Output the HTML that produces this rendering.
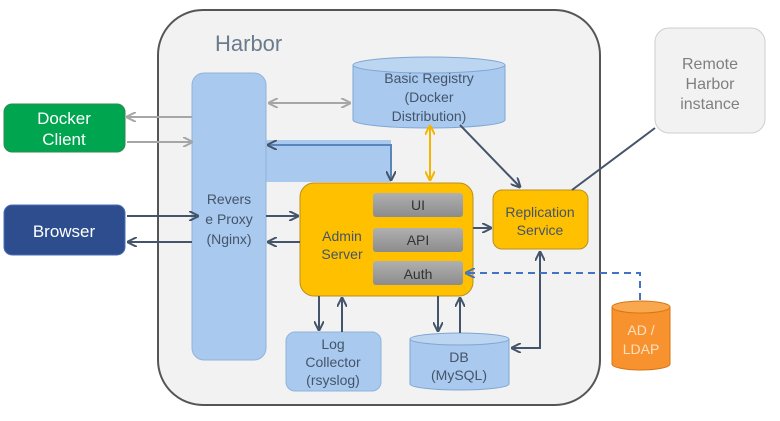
<!DOCTYPE html>
<html><head><meta charset="utf-8"><style>
html,body{margin:0;padding:0;background:#fff;}
svg{display:block;font-family:"Liberation Sans","DejaVu Sans",sans-serif;}
</style></head><body>
<svg width="780" height="421" viewBox="0 0 780 421" xmlns="http://www.w3.org/2000/svg">
<defs>
<marker id="ad" viewBox="0 0 10 10" refX="9" refY="5" markerWidth="5" markerHeight="5" orient="auto-start-reverse"><path d="M0,0 L10,5 L0,10" fill="none" stroke="#44546a" stroke-width="2"/></marker>
<marker id="ag" viewBox="0 0 10 10" refX="9" refY="5" markerWidth="5" markerHeight="5" orient="auto-start-reverse"><path d="M0,0 L10,5 L0,10" fill="none" stroke="#a6a6a6" stroke-width="2"/></marker>
<marker id="ao" viewBox="0 0 10 10" refX="9" refY="5" markerWidth="5" markerHeight="5" orient="auto-start-reverse"><path d="M0,0 L10,5 L0,10" fill="none" stroke="#f5b400" stroke-width="2"/></marker>
<marker id="ab" viewBox="0 0 10 10" refX="9" refY="5" markerWidth="5" markerHeight="5" orient="auto-start-reverse"><path d="M0,0 L10,5 L0,10" fill="none" stroke="#4472c4" stroke-width="2"/></marker>
<linearGradient id="gr" x1="0" y1="0" x2="0" y2="1"><stop offset="0" stop-color="#b0b0b0"/><stop offset="1" stop-color="#8c8c8c"/></linearGradient>
</defs>
<rect x="158" y="10" width="442" height="395" rx="45" fill="#f2f2f2" stroke="#555" stroke-width="2"/>
<text x="215" y="51" font-size="22" fill="#6b7b8c">Harbor</text>

<rect x="655" y="28" width="110" height="105" rx="14" fill="#f2f2f2" stroke="#cfcfcf"/>
<text font-size="16" fill="#7f7f7f" text-anchor="middle"><tspan x="710" y="69">Remote</tspan><tspan x="710" y="89">Harbor</tspan><tspan x="710" y="109">instance</tspan></text>

<rect x="4" y="104" width="121" height="48" rx="8" fill="#00a550" stroke="#2f8a4f"/>
<text font-size="17" fill="#fff" text-anchor="middle"><tspan x="64" y="124">Docker</tspan><tspan x="64" y="145">Client</tspan></text>
<rect x="4" y="205" width="121" height="50" rx="8" fill="#2e4d8e" stroke="#4a6fb5"/>
<text x="64" y="237" font-size="17" fill="#fff" text-anchor="middle">Browser</text>

<rect x="266" y="140" width="125" height="42" fill="#a9c9ee"/>
<rect x="192" y="73" width="74" height="287" rx="12" fill="#a9c9ee" stroke="#90b4dc"/>
<text font-size="14" fill="#44546a" text-anchor="middle"><tspan x="229" y="204">Revers</tspan><tspan x="229" y="224">e Proxy</tspan><tspan x="229" y="244">(Nginx)</tspan></text>

<path d="M353,65 V120 A76,8 0 0 0 505,120 V65" fill="#a9c9ee" stroke="#7fa6d3"/>
<ellipse cx="429" cy="65" rx="76" ry="8" fill="#bcd6f2" stroke="#7fa6d3"/>
<text font-size="14" fill="#44546a" text-anchor="middle"><tspan x="429" y="83">Basic Registry</tspan><tspan x="429" y="102">(Docker</tspan><tspan x="429" y="121">Distribution)</tspan></text>

<rect x="300" y="183" width="173" height="113" rx="14" fill="#ffc000" stroke="#b89020"/>
<text font-size="14" fill="#44546a" text-anchor="middle"><tspan x="342" y="241">Admin</tspan><tspan x="342" y="259">Server</tspan></text>
<rect x="373" y="193" width="90" height="24" rx="3" fill="url(#gr)"/>
<text x="418" y="210" font-size="14" fill="#333" text-anchor="middle">UI</text>
<rect x="373" y="228" width="90" height="24" rx="3" fill="url(#gr)"/>
<text x="418" y="245" font-size="14" fill="#333" text-anchor="middle">API</text>
<rect x="373" y="261" width="90" height="24" rx="3" fill="url(#gr)"/>
<text x="418" y="279" font-size="14" fill="#333" text-anchor="middle">Auth</text>

<rect x="493" y="190" width="95" height="59" rx="9" fill="#ffc000" stroke="#b89020"/>
<text font-size="14" fill="#44546a" text-anchor="middle"><tspan x="540" y="217">Replication</tspan><tspan x="540" y="235">Service</tspan></text>

<rect x="286" y="332" width="95" height="59" rx="9" fill="#a9c9ee" stroke="#90b4dc"/>
<text font-size="14" fill="#44546a" text-anchor="middle"><tspan x="333" y="349">Log</tspan><tspan x="333" y="367">Collector</tspan><tspan x="333" y="385">(rsyslog)</tspan></text>

<path d="M410,339 V384 A49.5,6 0 0 0 509,384 V339" fill="#a9c9ee" stroke="#7fa6d3"/>
<ellipse cx="459.5" cy="339" rx="49.5" ry="6" fill="#bcd6f2" stroke="#7fa6d3"/>
<text font-size="14" fill="#44546a" text-anchor="middle"><tspan x="459" y="362">DB</tspan><tspan x="459" y="380">(MySQL)</tspan></text>

<path d="M612,307 V364 A29,6 0 0 0 670,364 V307" fill="#f7922e" stroke="#d57616"/>
<ellipse cx="641" cy="307" rx="29" ry="6" fill="#f9a84f" stroke="#d57616"/>
<text font-size="14" fill="#fde0c0" text-anchor="middle"><tspan x="641" y="335">AD /</tspan><tspan x="641" y="354">LDAP</tspan></text>

<g stroke="#a6a6a6" stroke-width="2" fill="none">
<line x1="192" y1="117" x2="127" y2="117" marker-end="url(#ag)"/>
<line x1="127" y1="142" x2="192" y2="142" marker-end="url(#ag)"/>
<line x1="269" y1="103" x2="350" y2="103" marker-start="url(#ag)" marker-end="url(#ag)"/>
</g>
<g stroke="#44546a" stroke-width="2" fill="none">
<line x1="127" y1="216" x2="198" y2="216" marker-end="url(#ad)"/>
<line x1="192" y1="242" x2="128" y2="242" marker-end="url(#ad)"/>
<line x1="266" y1="216" x2="298" y2="216" marker-end="url(#ad)"/>
<line x1="300" y1="242" x2="268" y2="242" marker-end="url(#ad)"/>
<line x1="473" y1="228" x2="491" y2="228" marker-end="url(#ad)"/>
<line x1="460" y1="125" x2="520" y2="187" marker-end="url(#ad)"/>
<line x1="572" y1="190" x2="655" y2="128"/>
<line x1="319" y1="296" x2="319" y2="330" marker-end="url(#ad)"/>
<line x1="342" y1="332" x2="342" y2="298" marker-end="url(#ad)"/>
<line x1="438" y1="296" x2="438" y2="331" marker-end="url(#ad)"/>
<line x1="460" y1="333" x2="460" y2="298" marker-end="url(#ad)"/>
<polyline points="512,348 540,348 540,252" marker-start="url(#ad)" marker-end="url(#ad)"/>
</g>
<g stroke="#5b84b8" stroke-width="2" fill="none">
<polyline points="391,180 391,145 268,145" marker-start="url(#ad)" marker-end="url(#ad)"/>
</g>
<line x1="430" y1="126" x2="430" y2="180" stroke="#f5b400" stroke-width="2" marker-start="url(#ao)" marker-end="url(#ao)"/>
<polyline points="640,300 640,273 466,273" fill="none" stroke="#4472c4" stroke-width="2" stroke-dasharray="7,5" marker-end="url(#ab)"/>
</svg>
</body></html>
